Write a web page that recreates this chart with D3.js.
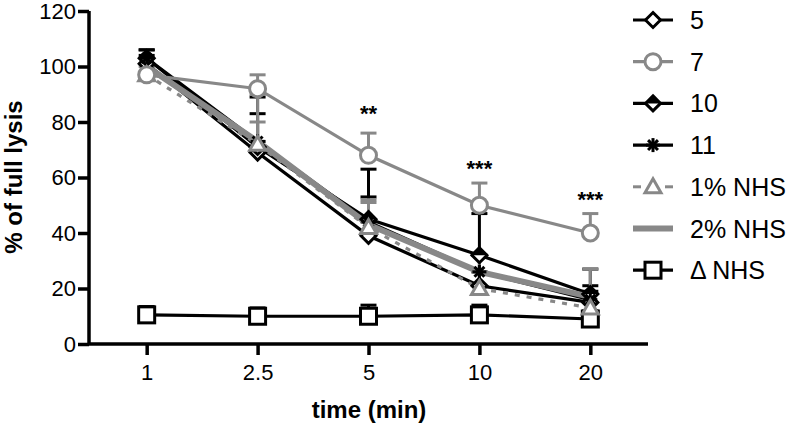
<!DOCTYPE html>
<html><head><meta charset="utf-8">
<script src="https://cdn.jsdelivr.net/npm/d3@7"></script>
<style>body{margin:0;background:#fff}svg{display:block;font-family:"Liberation Sans",Arial,sans-serif}</style>
</head><body>
<svg id="c" width="788" height="425"></svg>
<script>
const times = ["1", "2.5", "5", "10", "20"];
const yTicks = [0, 20, 40, 60, 80, 100, 120];
const seriesNames = ["5", "7", "10", "11", "1% NHS", "2% NHS", "\u0394NHS"];
const s5 = [101, 69, 39, 21, 15];
const e5 = [3, 4, 5, 5, 4];
const s7 = [97, 92, 68, 50, 40];
const e7 = [4, 5, 8, 8, 7];
const s10 = [103, 71, 45, 32, 18];
const e10 = [3, 18, 18, 15, 9];
const s11 = [103, 73, 44, 26, 16];
const e11 = [3, 10, 9, 6, 5];
const s1nhs = [97, 72, 42, 20, 13];
const e1nhs = [3, 8, 10, 6, 5];
const s2nhs = [100, 73, 43, 26, 17];
const e2nhs = [3, 17, 8, 6, 10];
const sdnhs = [10.5, 10, 10, 10.5, 9];
const ednhs = [3, 3, 4, 3.5, 3];
const sigLabels = ["", "", "**", "***", "***"];
const sigValues = [null, null, 84, 64, 53];

const GREY = "#888888";
const svg = d3.select("#c");
const x = d3.scalePoint().domain(times).range([89, 648]).padding(0.52);
const y = d3.scaleLinear().domain([0, 120]).range([344, 11]);

const series = [
  {name: seriesNames[0], v: s5, e: e5, color: "#000", w: 3.2, dash: null, marker: "diamond"},
  {name: seriesNames[2], v: s10, e: e10, color: "#000", w: 3.2, dash: null, marker: "halfdiamond"},
  {name: seriesNames[3], v: s11, e: e11, color: "#000", w: 3.2, dash: null, marker: "asterisk"},
  {name: seriesNames[6], v: sdnhs, e: ednhs, color: "#000", w: 3.2, dash: null, marker: "square"},
  {name: seriesNames[4], v: s1nhs, e: e1nhs, color: GREY, w: 3.2, dash: "5,7", marker: "triangle"},
  {name: seriesNames[5], v: s2nhs, e: e2nhs, color: GREY, w: 6, dash: null, marker: null},
  {name: seriesNames[1], v: s7, e: e7, color: GREY, w: 3.2, dash: null, marker: "circle"}
];

// axes
const yAxis = svg.append("g").attr("transform", "translate(89,0)")
  .call(d3.axisLeft(y).tickValues(yTicks).tickSize(11).tickPadding(2));
const xAxis = svg.append("g").attr("transform", "translate(0,344)")
  .call(d3.axisBottom(x).tickSize(11).tickPadding(9).tickSizeOuter(0));
[yAxis, xAxis].forEach(g => {
  g.select(".domain").attr("stroke-width", 3.5).attr("stroke", "#000");
  g.selectAll(".tick line").attr("stroke-width", 3.5).attr("stroke", "#000");
  g.selectAll(".tick text").attr("font-size", 22).attr("fill", "#000")
    .attr("font-family", "Liberation Sans, Arial, sans-serif");
});
yAxis.select(".domain").attr("d", "M0,344V11");
xAxis.select(".domain").attr("d", "M89,0H648");

svg.append("text").attr("transform", "translate(22,177) rotate(-90)")
  .attr("text-anchor", "middle").attr("font-size", 24).attr("font-weight", "bold").text("% of full lysis");
svg.append("text").attr("x", 369).attr("y", 418)
  .attr("text-anchor", "middle").attr("font-size", 24).attr("font-weight", "bold").text("time (min)");

// error bars
series.forEach(s => {
  const g = svg.append("g");
  times.forEach((t, i) => {
    const cx = x(t), y0 = y(s.v[i]), y1 = y(s.v[i] + s.e[i]);
    g.append("line").attr("x1", cx).attr("x2", cx).attr("y1", y0).attr("y2", y1)
      .attr("stroke", s.color).attr("stroke-width", 3);
    g.append("line").attr("x1", cx - 8).attr("x2", cx + 8).attr("y1", y1).attr("y2", y1)
      .attr("stroke", s.color).attr("stroke-width", 3);
  });
});

// lines
const line = d3.line().x((d, i) => x(times[i])).y(d => y(d));
series.forEach(s => {
  svg.append("path").attr("d", line(s.v)).attr("fill", "none")
    .attr("stroke", s.color).attr("stroke-width", s.w)
    .attr("stroke-dasharray", s.dash);
});

function drawMarker(g, type, cx, cy, color) {
  if (type === "diamond" || type === "halfdiamond") {
    const r = 7.5;
    g.append("path").attr("d", `M${cx},${cy - r}L${cx + r},${cy}L${cx},${cy + r}L${cx - r},${cy}Z`)
      .attr("fill", "#fff").attr("stroke", color).attr("stroke-width", 3);
    if (type === "halfdiamond")
      g.append("path").attr("d", `M${cx},${cy - r}L${cx + r},${cy}L${cx - r},${cy}Z`).attr("fill", color);
  } else if (type === "circle") {
    g.append("circle").attr("cx", cx).attr("cy", cy).attr("r", 8)
      .attr("fill", "#fff").attr("stroke", color).attr("stroke-width", 3);
  } else if (type === "square") {
    g.append("rect").attr("x", cx - 8).attr("y", cy - 8).attr("width", 16).attr("height", 16)
      .attr("fill", "#fff").attr("stroke", color).attr("stroke-width", 3);
  } else if (type === "triangle") {
    g.append("path").attr("d", `M${cx},${cy - 8}L${cx + 8},${cy + 6}L${cx - 8},${cy + 6}Z`)
      .attr("fill", "#fff").attr("stroke", color).attr("stroke-width", 3);
  } else if (type === "asterisk") {
    const r = 7;
    [0, 45, 90, 135].forEach(a => {
      const dx = r * Math.cos(a * Math.PI / 180), dy = r * Math.sin(a * Math.PI / 180);
      g.append("line").attr("x1", cx - dx).attr("x2", cx + dx).attr("y1", cy - dy).attr("y2", cy + dy)
        .attr("stroke", color).attr("stroke-width", 3);
    });
  }
}

series.forEach(s => {
  if (!s.marker) return;
  const g = svg.append("g");
  times.forEach((t, i) => drawMarker(g, s.marker, x(t), y(s.v[i]), s.color));
});

// significance
times.forEach((t, i) => {
  if (!sigLabels[i]) return;
  svg.append("text").attr("x", x(t)).attr("y", y(sigValues[i]) + 10)
    .attr("text-anchor", "middle").attr("font-size", 22).attr("font-weight", "bold").text(sigLabels[i]);
});

// legend
const legendStyles = {
  "5": series[0], "7": series[6], "10": series[1], "11": series[2],
  "1% NHS": series[4], "2% NHS": series[5], "\u0394NHS": series[3]
};
seriesNames.forEach((n, k) => {
  const s = legendStyles[n];
  const ly = 20 + k * 41.7;
  const g = svg.append("g");
  if (s.dash) {
    g.append("line").attr("x1", 633).attr("x2", 641).attr("y1", ly).attr("y2", ly).attr("stroke", s.color).attr("stroke-width", 3);
    g.append("line").attr("x1", 665).attr("x2", 673).attr("y1", ly).attr("y2", ly).attr("stroke", s.color).attr("stroke-width", 3);
  } else {
    g.append("line").attr("x1", 633).attr("x2", 673).attr("y1", ly).attr("y2", ly).attr("stroke", s.color).attr("stroke-width", s.w);
  }
  if (s.marker) drawMarker(g, s.marker, 653, ly, s.color);
  const label = n === "\u0394NHS" ? "\u0394 NHS" : n;
  g.append("text").attr("x", 690).attr("y", ly).attr("dy", "0.36em")
    .attr("font-size", 25).attr("fill", "#000").text(label);
});
</script>
</body></html>
